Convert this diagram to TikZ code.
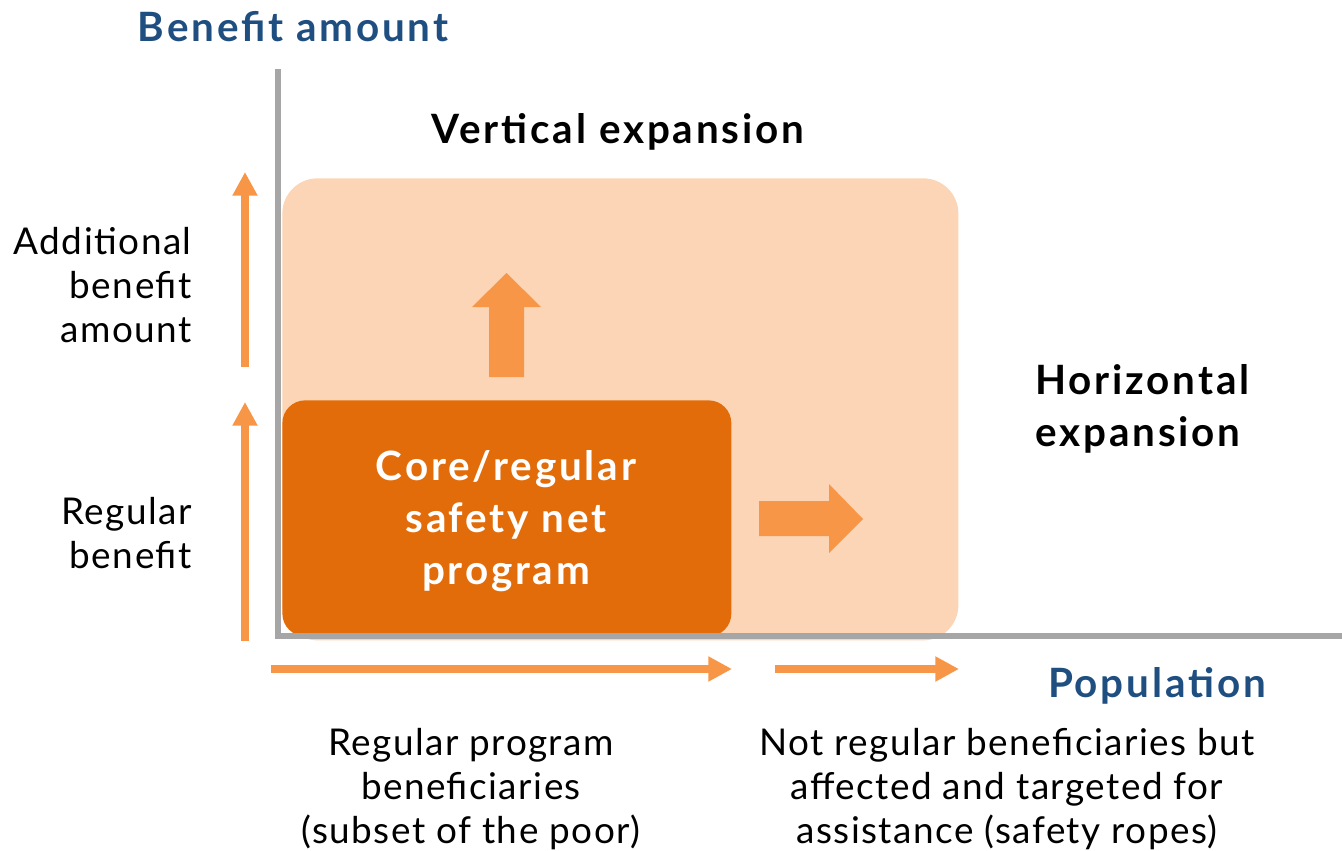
\documentclass[tikz,border=0pt]{standalone}
\usepackage{fontspec}
\setmainfont{Lato}[LetterSpace=4]
\usetikzlibrary{arrows.meta,positioning}

\definecolor{corefill}{HTML}{E36C0A}
\definecolor{expfill}{HTML}{FBD5B5}
\definecolor{arrowfill}{HTML}{F79646}
\definecolor{axisgray}{HTML}{A6A6A6}
\definecolor{titleblue}{HTML}{1F4E80}

\tikzset{
  axistitle/.style={font=\fontsize{23}{26}\selectfont\bfseries\addfontfeatures{LetterSpace=7}, text=titleblue, inner sep=0pt},
  exptitle/.style={font=\fontsize{23}{29.5}\selectfont\bfseries\addfontfeatures{LetterSpace=7}, inner sep=0pt},
  sidelabel/.style={font=\fontsize{21}{25}\selectfont, inner sep=0pt},
  axisline/.style={draw=axisgray, line width=3.2pt},
  benefitarrow/.style={draw=arrowfill, line width=4.6pt, -{Triangle[length=13.5pt,width=13.5pt]}},
  blockarrow/.style={fill=arrowfill}
}

\begin{document}
\begin{tikzpicture}[x=0.02cm, y=-0.02cm]
\useasboundingbox (0,0) rectangle (1342,851);

% expansion area and core program
\node (expbox) [fill=expfill, rounded corners=20pt, minimum width=676*0.02cm,
  minimum height=462*0.02cm, anchor=north west, inner sep=0pt] at (282,178) {};
\node (corebox) [fill=corefill, rounded corners=13pt, minimum width=449*0.02cm,
  minimum height=236*0.02cm, anchor=north west, inner sep=0pt] at (282,400) {};
\node (core) [exptitle, text=white, align=center] at (506,521)
  {Core/regular\\safety net\\program};

% block arrows
\fill[blockarrow] (489,377) -- (489,307) -- (472,307) -- (506.5,273)
  -- (541,307) -- (524,307) -- (524,377) -- cycle;
\fill[blockarrow] (759,501) -- (829,501) -- (829,484) -- (863,519)
  -- (829,553) -- (829,536) -- (759,536) -- cycle;

% axes
\coordinate (origin) at (278,636);
\coordinate (ytop) at (278,69);
\coordinate (xend) at (1342,636);
\draw[axisline] (ytop) -- (origin |- 0,639);
\draw[axisline] (275,636) -- (xend);

% axis titles
\node (benefit) [axistitle] at (293,27) {Benefit amount};
\node (population) [axistitle] at (1157,686) {Population};
\node (vertical) [exptitle] at (618,132) {Vertical expansion};
\node (horizontal) [exptitle, align=left, anchor=west] at (1035,409)
  {Horizontal\\expansion};

% benefit arrows on the left
\coordinate (reg0) at (245,641);
\coordinate (reg1) at (245,402);
\coordinate (add0) at (245,367);
\coordinate (add1) at (245,172);
\draw[benefitarrow] (reg0) -- (reg1);
\draw[benefitarrow] (add0) -- (add1);
\node (addlabel) [sidelabel, align=right, anchor=east] at (192,285)
  {Additional\\benefit\\amount};
\node (reglabel) [sidelabel, align=right, anchor=east] at (192,533)
  {Regular\\benefit};

% population arrows below
\coordinate (pop0) at (271,669);
\coordinate (pop1) at (732,669);
\coordinate (rope0) at (775,669);
\coordinate (rope1) at (959,669);
\draw[benefitarrow] (pop0) -- (pop1);
\draw[benefitarrow] (rope0) -- (rope1);
\node (poplabel) [sidelabel, align=center] at (471,789)
  {Regular program\\beneficiaries\\(subset of the poor)};
\node (ropelabel) [sidelabel, align=center] at (1007,789)
  {Not regular beneficiaries but\\affected and targeted for\\assistance (safety ropes)};
\end{tikzpicture}
\end{document}
